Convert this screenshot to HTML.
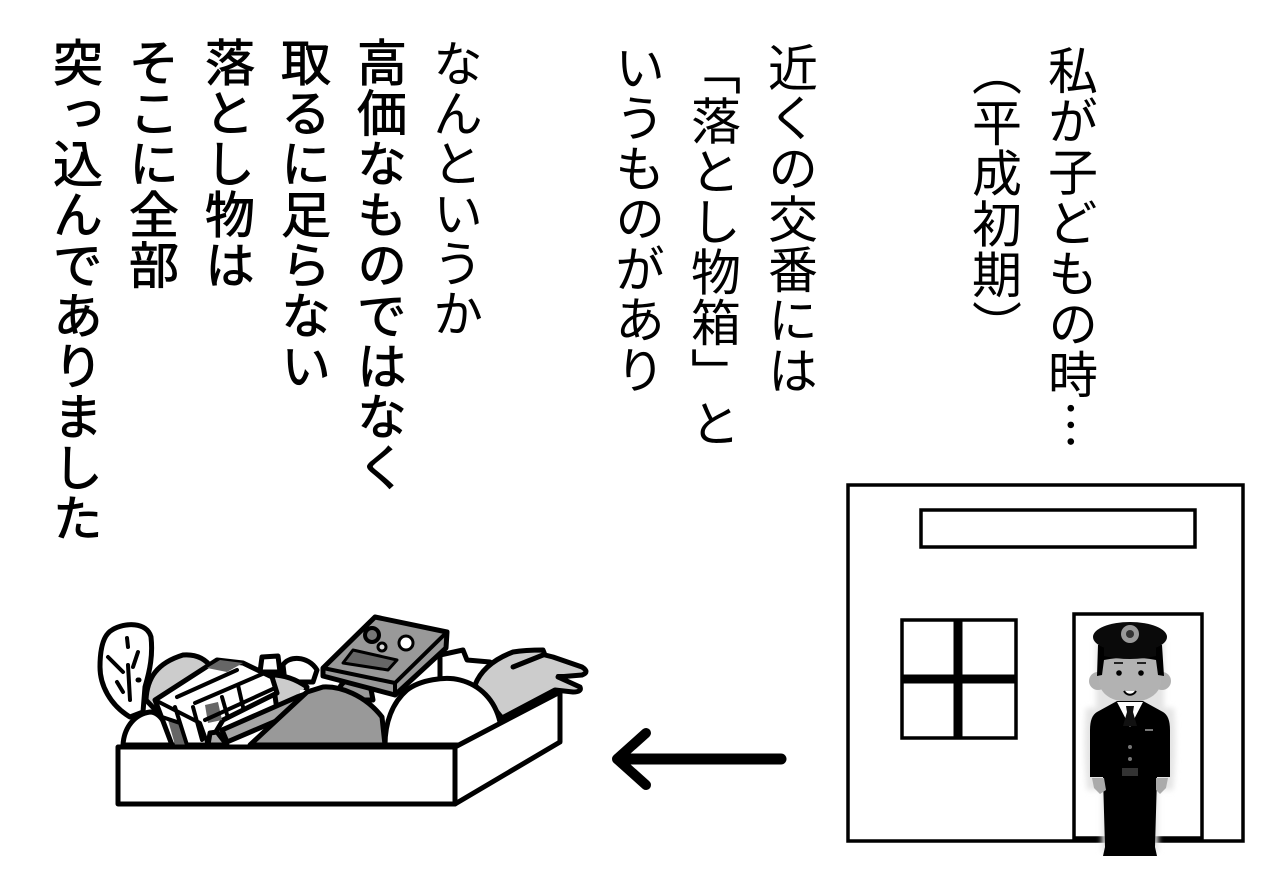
<!DOCTYPE html>
<html lang="ja"><head><meta charset="utf-8"><style>
html,body{margin:0;padding:0;background:#fff}
#p{position:relative;width:1280px;height:890px;overflow:hidden;background:#fff}
.c{position:absolute;writing-mode:vertical-rl;font:400 50px/50px "Noto Sans CJK JP","Liberation Sans",sans-serif;color:#000;white-space:nowrap;width:50px}
.b{-webkit-text-stroke:0.9px #000;top:37px;letter-spacing:.6px}
svg{position:absolute;left:0;top:0}
</style></head><body><div id="p">
<div class="c" style="left:1048px;top:45px;letter-spacing:.7px">私が子どもの時…</div>
<div class="c" style="left:972px;top:46px;font-feature-settings:'palt';letter-spacing:.8px">（平成初期）</div>
<div class="c" style="left:768px;top:42px;letter-spacing:.5px">近くの交番には</div>
<div class="c" style="left:691px;top:45px;letter-spacing:.4px">「落とし物箱」と</div>
<div class="c" style="left:615px;top:42px;letter-spacing:.4px">いうものがあり</div>
<div class="c" style="left:433px;top:38px">なんというか</div>
<div class="c b" style="left:357px">高価なものではなく</div>
<div class="c b" style="left:281px">取るに足らない</div>
<div class="c b" style="left:205px">落とし物は</div>
<div class="c b" style="left:129px">そこに全部</div>
<div class="c b" style="left:53px">突っ込んでありました</div>
<svg width="1280" height="890" viewBox="0 0 1280 890">
<defs><filter id="b"><feGaussianBlur stdDeviation="3"/></filter></defs>
<g fill="none" stroke="#000">
<rect x="848" y="485" width="395" height="356" stroke-width="3.5" fill="#fff"/>
<rect x="921" y="510" width="274" height="37" stroke-width="3.5"/>
<rect x="902" y="620" width="114" height="118" stroke-width="3.5"/>
<path d="M958 620V738M902 679H1016" stroke-width="9"/>
<path d="M1074 838V614H1202V838Z" stroke-width="3.5"/>
<path d="M618 759H781" stroke-width="11" stroke-linecap="round"/>
<path d="M646 733L617 759L646 785" stroke-width="10" stroke-linecap="round" stroke-linejoin="round"/>
</g>
<!-- police officer -->
<path d="M1096 640h68v68h10q3 40-1 82h-15v62h-56v-62h-15q-4-42-1-82h10z" fill="#e4e4e4" filter="url(#b)"/>
<circle cx="1098" cy="681" r="9" fill="#b0b0b0"/><circle cx="1162" cy="681" r="9" fill="#b0b0b0"/>
<path d="M1102 652H1158L1161 680C1161 694 1148 702 1130 702S1099 694 1099 680Z" fill="#b2b2b2"/>
<path d="M1098 645H1162L1164 676L1158 675L1156 660Q1130 655 1104 660L1102 675L1097 676Z" fill="#000"/>
<ellipse cx="1130" cy="637" rx="37" ry="15" fill="#0a0a0a"/>
<path d="M1104 648H1156V656Q1130 662 1104 656Z" fill="#0a0a0a"/>
<circle cx="1130" cy="634" r="9" fill="#999"/><circle cx="1130" cy="634" r="4" fill="#333"/>
<circle cx="1119" cy="673" r="2.8" fill="#000"/><circle cx="1141" cy="673" r="2.8" fill="#000"/>
<path d="M1114 663h9M1137 663h9" stroke="#222" stroke-width="2"/>
<path d="M1124 691c3 5 9 5 12 0" stroke="#000" stroke-width="2" fill="#fff"/>
<path d="M1097 712L1117 701H1143L1163 712Q1170 716 1170 730V777H1157L1155 847L1157 856H1103L1105 847L1103 777H1090V730Q1090 716 1097 712Z" fill="#000"/>
<path d="M1117 702H1143L1130 727Z" fill="#fff"/>
<path d="M1126 706h8l-1 6 4 14h-14l4-14z" fill="#111"/>
<path d="M1092 778h12l2 12-6 4-6-6zM1156 778h12l-2 10-6 6-4-4z" fill="#aaa"/>
<circle cx="1130" cy="747" r="2" fill="#777"/><circle cx="1130" cy="759" r="2" fill="#777"/>
<rect x="1122" y="768" width="16" height="8" fill="#333"/>
<path d="M1145 730h8" stroke="#777" stroke-width="2"/>
<!-- box contents -->
<g stroke="#000" stroke-width="5" stroke-linejoin="round" stroke-linecap="round">
<path d="M130 717C110 705 100 685 100 667C100 650 103 635 112 630C125 622 147 622 151 637C153 655 150 670 145 687L143 712Z" fill="#fff"/>
<path d="M108 657L123 672M138 652L133 667M127 638L128 647M128 665L130 700M117 682L123 692" fill="none" stroke-width="4"/>
<path d="M138 680h1" fill="none" stroke-width="5"/>
<path d="M146 700C147 678 157 663 183 655C195 654 205 658 212 668L165 720Z" fill="#ccc"/>
<path d="M262 657L278 656L280 672H260ZM283 665C288 656 308 655 317 670L313 682H285Z" fill="#fff"/>
<path d="M440 655L463 650L467 660L490 662L510 680L480 700H440Z" fill="#fff"/>
<path d="M475 685C480 672 492 660 513 652C525 650 535 650 543 650L545 655L553 657L582 667Q590 672 582 675L558 677L580 687Q582 692 573 692L555 690L502 718Z" fill="#ccc"/>
<path d="M513 667L543 655" fill="none"/>
<path d="M558 676H575" fill="none" stroke-width="4"/>
<path d="M123 745C124 727 135 714 150 712C160 712 168 725 172 745Z" fill="#fff"/>
<path d="M272 675C285 675 297 680 307 687L300 710H277Z" fill="#ccc"/>
<path d="M300 690H398V720H300Z" fill="#fff" stroke="none"/>
<path d="M340 687C345 677 362 675 370 684L373 700H340Z" fill="#999"/>
<!-- cube -->
<path d="M155 700L217 660L243 663L272 677L277 693L223 720L208 745H172Z" fill="#fff"/>
<path d="M168 720L180 723L187 745H175Z" fill="#666" stroke="none"/>
<path d="M205 705L218 702L222 720L208 723Z" fill="#666" stroke="none"/>
<path d="M207 668L220 660L243 663L227 672Z" fill="#666" stroke="none"/>
<path d="M155 700L200 723L208 745M175 707L187 745M193 707L202 740M162 717L180 723M195 703L267 672M177 697L237 670M222 697L228 718M238 685L243 707M205 720L275 688" fill="none" stroke-width="4"/>
<!-- grey bag -->
<path d="M208 745L210 733L217 732L227 745Z" fill="#aaa"/>
<path d="M222 730L297 697L325 687L290 715L227 742Z" fill="#a5a5a5"/>
<path d="M250 745L280 717L307 692L323 687C340 686 365 695 382 717L385 745Z" fill="#999"/>
<!-- white ball -->
<path d="M385 745C385 723 392 703 407 690C420 680 445 676 460 680C480 685 495 700 500 722L505 745Z" fill="#fff"/>
<!-- game device -->
<path d="M323 668L375 617L447 632L446 648L395 695L323 676Z" fill="#999"/>
<path d="M323 668L395 683L447 632M395 683V695" fill="none" stroke-width="4"/>
<path d="M343 663L353 650L397 660L388 670Z" fill="#666" stroke-width="3"/>
<circle cx="372" cy="635" r="7" fill="#777" stroke-width="4"/><circle cx="382" cy="647" r="4" fill="#ddd" stroke-width="3"/>
<circle cx="406" cy="643" r="7" fill="#fff" stroke-width="3"/>
<!-- box -->
<path d="M118 747H455V804H118Z" fill="#fff"/>
<path d="M455 747L560 692V742L455 804Z" fill="#fff"/>
</g>
</svg>
</div></body></html>
